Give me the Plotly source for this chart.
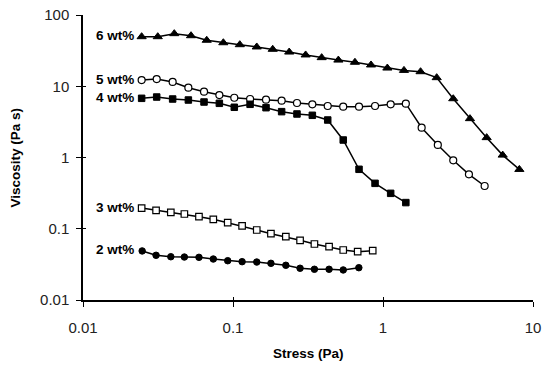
import math
import plotly.graph_objects as go

# Stress (Pa) and viscosity (Pa s) values
stress_6 = [0.0246, 0.0315, 0.0406, 0.0525, 0.0668, 0.0862, 0.111, 0.144, 0.184, 0.237,
            0.305, 0.390, 0.504, 0.650, 0.832, 1.069, 1.38, 1.78, 2.28, 2.94,
            3.80, 4.91, 6.28, 8.11]
visc_6 = [49.6, 49.6, 54.7, 51.2, 44.2, 40.8, 38.3, 35.6, 33.0, 30.2,
          27.5, 25.2, 23.3, 21.7, 19.9, 18.0, 16.7, 16.0, 13.2, 6.68,
          3.51, 1.90, 1.08, 0.68]

stress_5 = [0.0246, 0.031, 0.0396, 0.0504, 0.0641, 0.0811, 0.102, 0.130, 0.166, 0.211,
            0.267, 0.338, 0.428, 0.543, 0.692, 0.885, 1.125, 1.42, 1.81, 2.32,
            2.94, 3.74, 4.76]
visc_5 = [12.2, 12.6, 11.5, 9.55, 8.38, 7.53, 6.90, 6.62, 6.47, 6.27,
          5.82, 5.58, 5.28, 5.17, 5.17, 5.28, 5.58, 5.69, 2.62, 1.50,
          0.914, 0.581, 0.398]

stress_4 = [0.0246, 0.031, 0.0396, 0.0504, 0.0641, 0.0811, 0.102, 0.130, 0.166, 0.211,
            0.267, 0.338, 0.428, 0.543, 0.692, 0.885, 1.125, 1.42]
visc_4 = [6.77, 7.06, 6.62, 6.41, 6.01, 5.76, 5.07, 5.58, 5.00, 4.40,
          4.08, 3.91, 3.36, 1.76, 0.683, 0.434, 0.314, 0.233]

stress_3 = [0.0246, 0.0307, 0.0385, 0.0474, 0.0593, 0.0739, 0.0922, 0.115, 0.144, 0.179,
            0.225, 0.280, 0.349, 0.437, 0.543, 0.678, 0.854]
visc_3 = [0.195, 0.1815, 0.170, 0.161, 0.1476, 0.1358, 0.1217, 0.1094, 0.0960, 0.0852,
          0.0773, 0.0689, 0.0611, 0.0560, 0.0503, 0.0477, 0.0492]

stress_2 = [0.0248, 0.0307, 0.0385, 0.0474, 0.0593, 0.0739, 0.0922, 0.115, 0.144, 0.179,
            0.225, 0.280, 0.349, 0.437, 0.543, 0.690]
visc_2 = [0.0488, 0.0424, 0.0405, 0.0401, 0.0397, 0.0376, 0.0356, 0.0345, 0.0341, 0.0327,
          0.0307, 0.0279, 0.0270, 0.0270, 0.0264, 0.0284]

series_labels = ["6 wt%", "5 wt%", "4 wt%", "3 wt%", "2 wt%"]

x_tick_vals = [0.01, 0.1, 1, 10]
x_tick_text = ["0.01", "0.1", "1", "10"]
y_tick_vals = [0.01, 0.1, 1, 10, 100]
y_tick_text = ["0.01", "0.1", "1", "10", "100"]

x_title = "Stress (Pa)"
y_title = "Viscosity (Pa s)"

FONT = "Liberation Sans, Arial, sans-serif"
BOLD = dict(family=FONT, size=13.5, color="black", weight="bold")

styles = [
    dict(symbol="triangle-up", size=8, color="black", line=dict(color="black", width=1)),
    dict(symbol="circle", size=7, color="white", line=dict(color="black", width=1.2)),
    dict(symbol="square", size=6.5, color="black", line=dict(color="black", width=1)),
    dict(symbol="square", size=6.5, color="white", line=dict(color="black", width=1.2)),
    dict(symbol="circle", size=6.5, color="black", line=dict(color="black", width=1)),
]

data = [(stress_6, visc_6), (stress_5, visc_5), (stress_4, visc_4),
        (stress_3, visc_3), (stress_2, visc_2)]

fig = go.Figure()
for (xs, ys), lab, st in zip(data, series_labels, styles):
    fig.add_trace(go.Scatter(
        x=xs, y=ys, mode="lines+markers", name=lab,
        line=dict(color="black", width=1.5),
        marker=st, showlegend=False,
    ))
    fig.add_annotation(
        x=math.log10(xs[0]), y=math.log10(ys[0]), xref="x", yref="y",
        text=lab, showarrow=False, xanchor="right", yanchor="middle",
        xshift=-6, yshift=1, font=BOLD,
    )

axis_common = dict(
    type="log", showgrid=False, zeroline=False, showline=True, automargin=False,
    linecolor="black", linewidth=1.5, ticks="outside", ticklen=5,
    tickwidth=1.2, tickcolor="black", ticklabeloverflow="allow",
    tickfont=dict(family=FONT, size=15, color="#222"),
)

fig.update_xaxes(**axis_common, range=[-2, 1], tickvals=x_tick_vals,
                 ticktext=x_tick_text, ticklabelstandoff=8)
fig.update_yaxes(**axis_common, range=[-2, 2], tickvals=y_tick_vals,
                 ticktext=y_tick_text, ticklabelstandoff=4)

# overlay axes giving the inner half of the crossing tick marks
fig.update_layout(
    xaxis2=dict(type="log", range=[-2, 1], overlaying="x", tickvals=x_tick_vals,
                ticks="inside", ticklen=3, tickwidth=1.2, tickcolor="black",
                showticklabels=False, showline=False, showgrid=False,
                zeroline=False, automargin=False, side="bottom"),
    yaxis2=dict(type="log", range=[-2, 2], overlaying="y", tickvals=y_tick_vals,
                ticks="inside", ticklen=3, tickwidth=1.2, tickcolor="black",
                showticklabels=False, showline=False, showgrid=False,
                zeroline=False, automargin=False, side="left"),
)
fig.add_trace(go.Scatter(x=[], y=[], xaxis="x2", yaxis="y2", showlegend=False))

fig.add_annotation(text=x_title, xref="paper", yref="paper", x=0.5, y=0,
                   yshift=-53, showarrow=False, xanchor="center", yanchor="middle",
                   font=BOLD)
fig.add_annotation(text=y_title, xref="paper", yref="paper", x=0, y=0.5,
                   xshift=-68, showarrow=False, xanchor="center", yanchor="middle",
                   textangle=-90, font=BOLD)

fig.update_layout(
    width=550, height=368,
    margin=dict(l=83, r=17, t=15, b=68),
    paper_bgcolor="white", plot_bgcolor="white",
)

# remove the default 8px page margin so the figure fills the window
fig.write_html("out.html", config={"displayModeBar": False},
               post_script="document.body.style.margin='0';")
